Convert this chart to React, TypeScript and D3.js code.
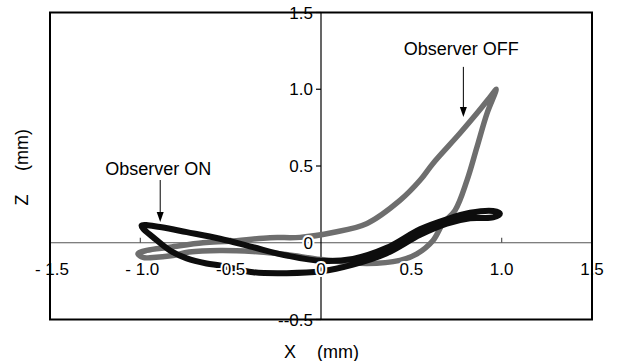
import React from "react";
import * as d3 from "d3";

// Observer OFF loop (grey), in mm, starting at the upper-right tip
const offX = [0.97, 0.935, 0.863, 0.769, 0.62, 0.548, 0.437, 0.255, 0.066, -0.116, -0.282, -0.504, -0.653, -0.836, -0.965, -1.013, -0.985, -0.93, -0.83, -0.73, -0.56, -0.376, -0.194, 0, 0.255, 0.437, 0.531, 0.62, 0.675, 0.742, 0.808, 0.863, 0.919, 0.963];
const offZ = [1.0, 0.948, 0.843, 0.713, 0.517, 0.407, 0.276, 0.126, 0.067, 0.035, 0.033, 0.01, 0.0, -0.029, -0.05, -0.072, -0.096, -0.096, -0.085, -0.06, -0.05, -0.057, -0.077, -0.109, -0.135, -0.115, -0.072, 0.015, 0.126, 0.211, 0.406, 0.622, 0.843, 0.973];

// Observer ON loop (black), starting at the left tip
const onX = [-0.993, -0.891, -0.743, -0.559, -0.376, -0.19, 0, 0.177, 0.364, 0.548, 0.696, 0.825, 0.952, 0.99, 0.952, 0.825, 0.696, 0.548, 0.364, 0.177, 0, -0.19, -0.376, -0.559, -0.633, -0.743, -0.836, -0.93, -0.985];
const onZ = [0.113, 0.102, 0.069, 0.026, -0.029, -0.083, -0.118, -0.105, -0.033, 0.088, 0.153, 0.195, 0.207, 0.19, 0.165, 0.16, 0.125, 0.052, -0.068, -0.142, -0.186, -0.198, -0.192, -0.148, -0.135, -0.102, -0.05, 0.037, 0.093];

const xTicks = [-1.5, -1, -0.5, 0, 0.5, 1, 1.5];
const xTickLabels = ["- 1.5", "- 1.0", "-0.5", "0", "0.5", "1.0", "1.5"];
const yTicks = [-0.5, 0, 0.5, 1, 1.5];
const yTickLabels = ["--0.5", "0", "0.5", "1.0", "1.5"];

// annotations: label, arrow tip (mm)
const notes = [
  { text: "Observer OFF", x: 0.788, z: 0.82, len: 50, gap: 12 },
  { text: "Observer ON", x: -0.89, z: 0.135, len: 42, gap: 5 },
];

const font = "'Liberation Sans', Arial, sans-serif";

export default function App() {
  const x = d3.scaleLinear().domain([-1.5, 1.5]).range([50, 592]);
  const y = d3.scaleLinear().domain([-0.5, 1.5]).range([319.5, 12.5]);
  const x0 = x(0), y0 = y(0);

  const loop = d3.line<[number, number]>()
    .x(d => x(d[0]))
    .y(d => y(d[1]))
    .curve(d3.curveCatmullRomClosed.alpha(0.5));

  const offPath = loop(offX.map((v, i) => [v, offZ[i]]));
  const onPath = loop(onX.map((v, i) => [v, onZ[i]]));

  const halo = { stroke: "#fff", strokeWidth: 4, paintOrder: "stroke" as const, strokeLinejoin: "round" as const };

  return (
    <svg width={618} height={361} style={{ position: "absolute", left: 0, top: 0, background: "#fff" }} fontFamily={font}>
      {/* x axis line (z = 0) */}
      <line x1={x(-1.5)} x2={x(1.5)} y1={y0} y2={y0} stroke="#555" strokeWidth={1.2} />
      {xTicks.filter(t => Math.abs(t) > 0 && Math.abs(t) < 1.5).map(t => (
        <line key={t} x1={x(t)} x2={x(t)} y1={y0} y2={y0 - 5} stroke="#555" strokeWidth={1.2} />
      ))}
      {/* y axis line (x = 0) */}
      <line x1={x0} x2={x0} y1={y(1.5)} y2={y(-0.5)} stroke="#000" strokeWidth={1.2} />
      {yTicks.filter(t => t !== 0).map(t => (
        <line key={t} x1={x0 - 5} x2={x0} y1={y(t)} y2={y(t)} stroke="#000" strokeWidth={1.2} />
      ))}

      <path d={offPath ?? ""} fill="none" stroke="#6e6e6e" strokeWidth={5.5} strokeLinejoin="round" />
      <path d={onPath ?? ""} fill="none" stroke="#0d0d0d" strokeWidth={6} strokeLinejoin="round" />

      {xTicks.map((t, i) => (
        <text key={t} x={x(t) + (t < -0.75 ? 2 : 0)} y={y0 + 32} fontSize={17} textAnchor="middle" fill="#000" {...halo}>
          {xTickLabels[i]}
        </text>
      ))}
      {yTicks.map((t, i) => (
        <text key={t} x={x0 - 8} y={y(t) + 6} fontSize={17} textAnchor="end" fill="#000" {...(t === 1.5 || t === -0.5 ? {} : halo)}>
          {yTickLabels[i]}
        </text>
      ))}

      <rect x={x(-1.5)} y={y(1.5)} width={x(1.5) - x(-1.5)} height={y(-0.5) - y(1.5)} fill="none" stroke="#000" strokeWidth={2} />

      {notes.map(n => {
        const tx = x(n.x), ty = y(n.z);
        const top = ty - n.len;
        return (
          <g key={n.text}>
            <line x1={tx} x2={tx} y1={top} y2={ty - 9} stroke="#000" strokeWidth={1} />
            <path d={`M${tx - 3.5},${ty - 10}L${tx + 3.5},${ty - 10}L${tx},${ty}Z`} fill="#000" />
            <text x={tx - 2} y={top - n.gap} fontSize={18} textAnchor="middle" fill="#000">{n.text}</text>
          </g>
        );
      })}

      {/* axis titles */}
      <text x={290} y={358} fontSize={18} textAnchor="middle">X</text>
      <text x={338} y={358} fontSize={18} textAnchor="middle">(mm)</text>
      <text transform="translate(28,200) rotate(-90)" fontSize={18} textAnchor="middle">Z</text>
      <text transform="translate(28,150) rotate(-90)" fontSize={18} textAnchor="middle">(mm)</text>
    </svg>
  );
}
